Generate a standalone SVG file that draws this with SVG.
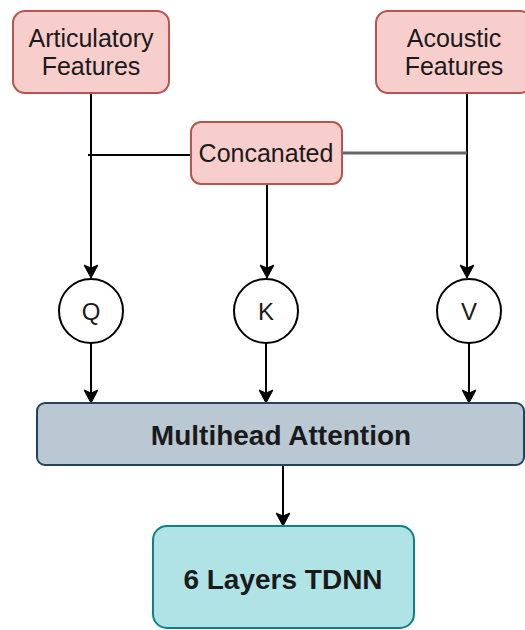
<svg xmlns="http://www.w3.org/2000/svg" width="525" height="630" viewBox="0 0 525 630">
<style>
.pink{fill:#f8cecc;stroke:#b85450;stroke-width:2}
.blue{fill:#bac8d3;stroke:#23445d;stroke-width:2}
.teal{fill:#b0e3e6;stroke:#0e8088;stroke-width:2}
.circ{fill:#ffffff;stroke:#000000;stroke-width:2}
.t{font-family:"Liberation Sans",Arial,sans-serif;font-size:25px;fill:#1a1a1a;text-anchor:middle}
.b{font-family:"Liberation Sans",Arial,sans-serif;font-size:28px;font-weight:bold;fill:#1a1a1a;text-anchor:middle}
.c{fill:none;stroke:#000;stroke-width:2}
</style>
<defs>
<marker id="arr" markerUnits="userSpaceOnUse" markerWidth="16" markerHeight="14" viewBox="0 0 16 14" refX="15" refY="7" orient="auto">
<path d="M2,0 L15,7 L2,14 L5,7 Z" fill="#000" stroke="#000" stroke-width="1"/>
</marker>
</defs>
<g id="connectors">
<path class="c" d="M91,93 V278" marker-end="url(#arr)"/>
<path class="c" d="M467,93 V278" marker-end="url(#arr)"/>
<path class="c" d="M88,155 H191"/>
<path d="M342,153 H467" fill="none" stroke="#666" stroke-width="3"/>
<path class="c" d="M267,184 V278" marker-end="url(#arr)"/>
<path class="c" d="M91,343 V403" marker-end="url(#arr)"/>
<path class="c" d="M266,343 V403" marker-end="url(#arr)"/>
<path class="c" d="M469,343 V403" marker-end="url(#arr)"/>
<path class="c" d="M283,465 V526" marker-end="url(#arr)"/>
</g>
<g id="articulatory">
<rect class="pink" x="13" y="11" width="156" height="82" rx="12"/>
<text class="t" x="91" y="47">Articulatory</text>
<text class="t" x="91" y="75">Features</text>
</g>
<g id="acoustic">
<rect class="pink" x="376" y="11" width="156" height="82" rx="12"/>
<text class="t" x="454" y="47">Acoustic</text>
<text class="t" x="454" y="75">Features</text>
</g>
<g id="concanated">
<rect class="pink" x="191" y="122" width="151" height="62" rx="10"/>
<text class="t" x="266" y="162">Concanated</text>
</g>
<g id="q">
<circle class="circ" cx="91" cy="311" r="32"/>
<text class="t" x="91" y="320" style="font-size:24px">Q</text>
</g>
<g id="k">
<circle class="circ" cx="266" cy="311" r="32"/>
<text class="t" x="266" y="320" style="font-size:24px">K</text>
</g>
<g id="v">
<circle class="circ" cx="469" cy="311" r="32"/>
<text class="t" x="469" y="320" style="font-size:24px">V</text>
</g>
<g id="mha">
<rect class="blue" x="37" y="403" width="487" height="62" rx="8"/>
<text class="b" x="281" y="445">Multihead Attention</text>
</g>
<g id="tdnn">
<rect class="teal" x="153" y="526" width="261" height="102" rx="14"/>
<text class="b" x="283" y="589">6 Layers TDNN</text>
</g>
</svg>
